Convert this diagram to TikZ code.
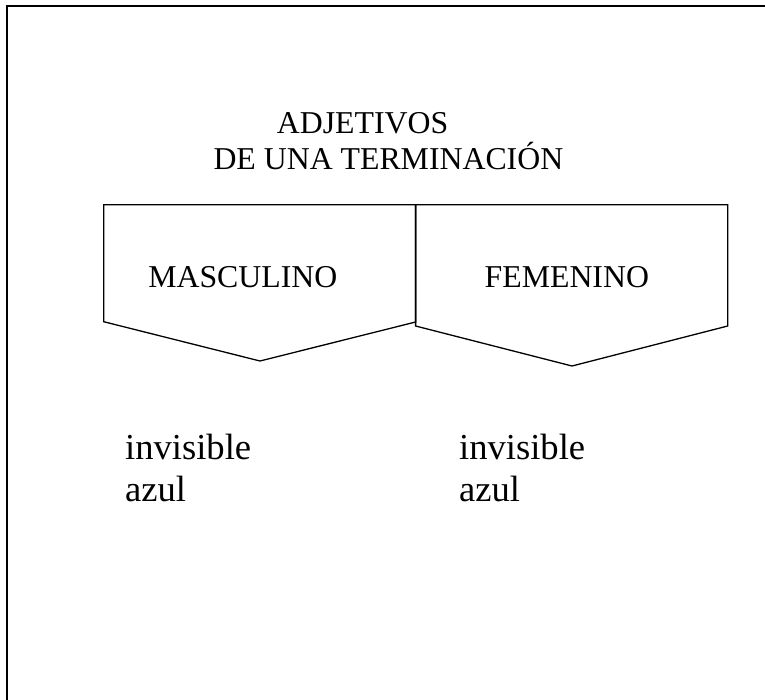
\documentclass[tikz,border=0pt]{standalone}
\usepackage{fontspec}
\setmainfont{Liberation Serif}
\begin{document}
\begin{tikzpicture}[x=1pt,y=-1pt,
  frame/.style={draw=black,line width=2pt},
  penta/.style={draw=black,line width=1.3pt,line join=miter},
  headtxt/.style={inner sep=0pt,anchor=base west,font=\fontsize{31.8}{36.6}\selectfont},
  wordtxt/.style={inner sep=0pt,anchor=base west,font=\fontsize{36.6}{42.8}\selectfont}]
\useasboundingbox (0,0) rectangle (765,699);
\clip (0,0) rectangle (765,699);
\fill[white] (0,0) rectangle (765,699);
% outer frame (right and bottom edges fall outside the picture)
\draw[frame] (7,6) rectangle (790,720);
% pentagons
\coordinate (tl) at (103.7,204.7);
\coordinate (tm) at (415.6,204.7);
\coordinate (tr) at (727.7,204.7);
\draw[penta] (tl) -- (tm) -- (415.6,322) -- (260,361) -- (103.7,321.7) -- cycle;
\draw[penta] (tm) -- (tr) -- (727.7,326) -- (572,366) -- (415.6,326) -- cycle;
% title
\node[headtxt] (t1) at (276.7,133) {ADJETIVOS};
\node[headtxt] (t2) at (213.3,169) {DE UNA TERMINACIÓN};
% headings
\node[headtxt] (masc) at (148.1,287.3) {MASCULINO};
\node[headtxt] (fem) at (484.5,287.3) {FEMENINO};
% words
\node[wordtxt] (inv1) at (124.9,459.3) {invisible};
\node[wordtxt] (azul1) at (124.9,501.7) {azul};
\node[wordtxt] (inv2) at (458.9,459.3) {invisible};
\node[wordtxt] (azul2) at (458.9,501.7) {azul};
\end{tikzpicture}
\end{document}
